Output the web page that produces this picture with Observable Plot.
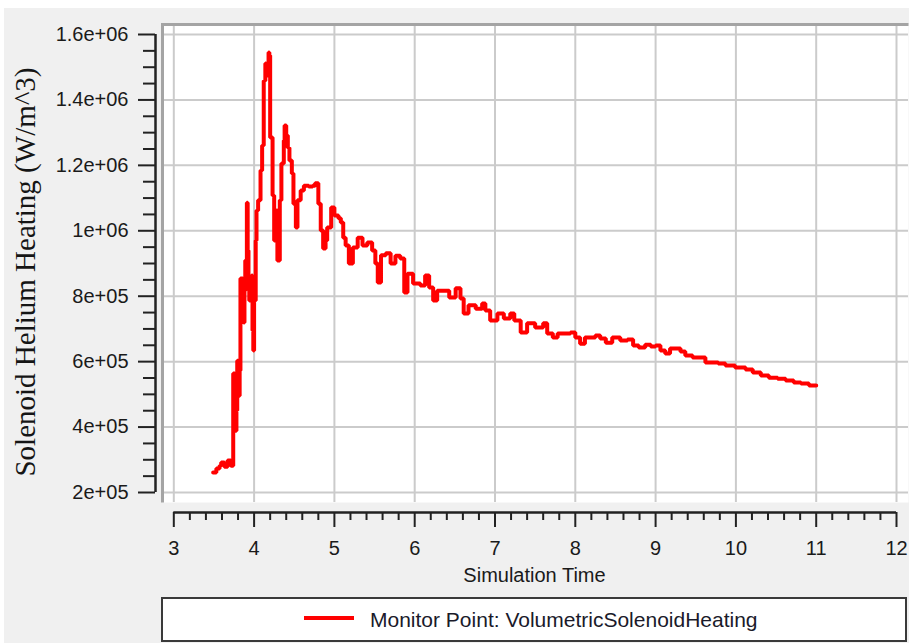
<!DOCTYPE html>
<html>
<head>
<meta charset="utf-8">
<script src="https://cdn.jsdelivr.net/npm/d3@7"></script>
<script src="https://cdn.jsdelivr.net/npm/@observablehq/plot@0.6"></script>
<style>
  html, body { margin: 0; padding: 0; background: #ffffff; }
  #wrap { position: absolute; left: 4px; top: 8px; width: 905px; height: 635px; background: #f0f0f0; overflow: hidden; }
  #chart { position: absolute; left: 0; top: 0; }
  #xlabel { position: absolute; left: 169px; width: 723px; top: 556px; text-align: center;
            font-family: "Liberation Sans", Arial, sans-serif; font-size: 20px; line-height: 22px; color: #1a1a1a; }
  #legend { position: absolute; left: 157px; top: 589px; width: 746px; height: 45px; box-sizing: border-box;
            background: #ffffff; border: 2px solid #3a3a3a; }
  #legend .swatch { position: absolute; left: 141px; top: 17px; width: 50px; height: 4px; background: #ff0000; }
  #legend .txt { position: absolute; left: 207px; top: 9px; font-family: "Liberation Sans", Arial, sans-serif;
                 font-size: 21px; line-height: 24px; color: #1a1a2a; white-space: nowrap; }
</style>
</head>
<body>
<div id="wrap">
  <div id="chart"></div>
  <div id="xlabel"></div>
  <div id="legend"><div class="swatch"></div><div class="txt"></div></div>
</div>
<script>
// ---- data ----
const seriesName = "Monitor Point: VolumetricSolenoidHeating";
const xLabel = "Simulation Time";
const yLabel = "Solenoid Helium Heating (W/m^3)";

const time = [
  3.49,3.53,3.57,3.59,3.63,3.67,3.71,3.73,3.74,3.76,
  3.77,3.78,3.79,3.81,3.82,3.83,3.86,3.87,3.88,3.89,
  3.91,3.92,3.93,3.94,3.97,3.98,3.99,4.00,4.02,4.03,
  4.05,4.08,4.10,4.12,4.14,4.15,4.18,4.19,4.20,4.23,
  4.25,4.28,4.29,4.32,4.34,4.37,4.38,4.40,4.42,4.44,
  4.47,4.49,4.52,4.54,4.58,4.62,4.68,4.73,4.76,4.80,
  4.83,4.86,4.89,4.91,4.96,5.00,5.05,5.08,5.11,5.14,
  5.18,5.23,5.29,5.35,5.41,5.47,5.51,5.54,5.58,5.64,
  5.70,5.76,5.82,5.87,5.91,5.98,6.07,6.13,6.18,6.23,
  6.28,6.38,6.43,6.51,6.57,6.61,6.67,6.76,6.84,6.88,
  6.94,7.03,7.11,7.19,7.24,7.32,7.40,7.50,7.60,7.65,
  7.72,7.78,7.88,7.94,8.00,8.06,8.12,8.25,8.31,8.38,
  8.46,8.56,8.65,8.72,8.79,8.87,8.94,9.00,9.06,9.12,
  9.18,9.31,9.37,9.46,9.53,9.62,9.71,9.78,9.87,9.99,
  10.12,10.21,10.31,10.41,10.52,10.62,10.72,10.81,10.91,11.00
];

const heating = [
  261000,273000,282000,292000,279000,298000,282000,282000,564000,481000,
  389000,451000,603000,496000,573000,854000,787000,720000,817000,909000,
  1086000,940000,848000,787000,863000,695000,634000,787000,970000,1062000,
  1093000,1184000,1261000,1459000,1511000,1475000,1545000,1536000,1285000,1108000,
  970000,1062000,909000,1093000,1206000,1276000,1322000,1291000,1254000,1215000,
  1175000,1083000,1010000,1093000,1123000,1138000,1135000,1138000,1145000,1083000,
  1001000,946000,970000,1010000,1071000,1047000,1038000,1025000,979000,955000,
  900000,949000,979000,955000,964000,940000,900000,842000,925000,931000,
  900000,924000,915000,811000,869000,839000,833000,863000,827000,787000,
  817000,817000,796000,824000,793000,747000,772000,762000,778000,756000,
  726000,747000,732000,747000,726000,689000,717000,704000,717000,686000,
  674000,686000,686000,689000,674000,655000,674000,680000,671000,658000,
  674000,665000,668000,649000,643000,652000,646000,649000,634000,625000,
  640000,631000,619000,613000,613000,597000,597000,594000,588000,582000,
  576000,567000,558000,551000,548000,542000,536000,533000,527000,527000
];

const xDomain = [3, 12];
const yDomain = [200000, 1600000];
const xTicks = [3, 4, 5, 6, 7, 8, 9, 10, 11, 12];
const xTickLabels = ["3", "4", "5", "6", "7", "8", "9", "10", "11", "12"];
const yTicks = [200000, 400000, 600000, 800000, 1000000, 1200000, 1400000, 1600000];
const yTickLabels = ["2e+05", "4e+05", "6e+05", "8e+05", "1e+06", "1.2e+06", "1.4e+06", "1.6e+06"];

// minor tick positions (axis decoration)
const xMinor = d3.range(30, 121, 2).map(v => v / 10).filter(v => !xTicks.includes(v));
const yMinor = d3.range(4, 33).map(v => v * 50000).filter(v => !yTicks.includes(v));

const rows = time.map((t, i) => ({ t, h: heating[i] }));

const ink = "#222222";
const gridColor = "#cbcbcb";

const chart = Plot.plot({
  width: 905,
  height: 554,
  marginLeft: 169.3,
  marginRight: 13,
  marginTop: 26,
  marginBottom: 70,
  x: { domain: xDomain, label: null },
  y: { domain: yDomain, label: null },
  style: { background: "transparent", fontFamily: "Liberation Sans, Arial, sans-serif", fontSize: "20px", color: "#1a1a1a", overflow: "visible" },
  marks: [
    // white plotting panel
    Plot.frame({ fill: "#ffffff", stroke: null, insetLeft: -11.3, insetRight: -12, insetTop: -10, insetBottom: -10 }),
    // grid
    Plot.ruleX(xTicks, { stroke: gridColor, strokeWidth: 2, insetTop: -10, insetBottom: -10 }),
    Plot.ruleY(yTicks, { stroke: gridColor, strokeWidth: 2, insetLeft: -11.3, insetRight: -12 }),
    // panel border (top and left only)
    Plot.frame({ fill: null, stroke: "#a4a4a4", strokeWidth: 3, strokeDasharray: "746 1224 478",
                 insetLeft: -11.3, insetRight: -12, insetTop: -10, insetBottom: -10 }),
    // detached axis lines
    Plot.ruleX([xDomain[0]], { y1: yDomain[0], y2: yDomain[1], dx: -18.3, stroke: ink, strokeWidth: 2.5 }),
    Plot.ruleY([yDomain[0]], { x1: xDomain[0], x2: xDomain[1], dy: 20, stroke: ink, strokeWidth: 2.5 }),
    // y axis
    Plot.axisY(yMinor, { anchor: "left", tickSize: 12, dx: -18.3, tickFormat: () => "", label: null, stroke: ink, strokeWidth: 2 }),
    Plot.axisY(yTicks, { anchor: "left", tickSize: 17, tickPadding: 10, dx: -18.3, label: null, stroke: ink, strokeWidth: 2,
                         fill: "#1a1a1a", tickFormat: d => yTickLabels[yTicks.indexOf(d)] }),
    // x axis
    Plot.axisX(xMinor, { anchor: "bottom", tickSize: 8, dy: 20, tickFormat: () => "", label: null, stroke: ink, strokeWidth: 2 }),
    Plot.axisX(xTicks, { anchor: "bottom", tickSize: 15, tickPadding: 13, dy: 20, label: null, stroke: ink, strokeWidth: 2,
                         fill: "#1a1a1a", tickFormat: d => xTickLabels[xTicks.indexOf(d)] }),
    // data
    Plot.line(rows, { x: "t", y: "h", stroke: "#ff0000", strokeWidth: 4, curve: "step-after", strokeLinejoin: "miter" }),
    // y axis title
    Plot.text([yLabel], { frameAnchor: "left", text: d => d, rotate: -90, dx: -148.3, dy: 8.5,
                          textAnchor: "middle", lineAnchor: "middle", fontFamily: "Liberation Serif, Times New Roman, serif",
                          fontSize: 29, fill: "#151515" })
  ]
});

document.getElementById("chart").appendChild(chart);
document.getElementById("xlabel").textContent = xLabel;
document.querySelector("#legend .txt").textContent = seriesName;
</script>
</body>
</html>
